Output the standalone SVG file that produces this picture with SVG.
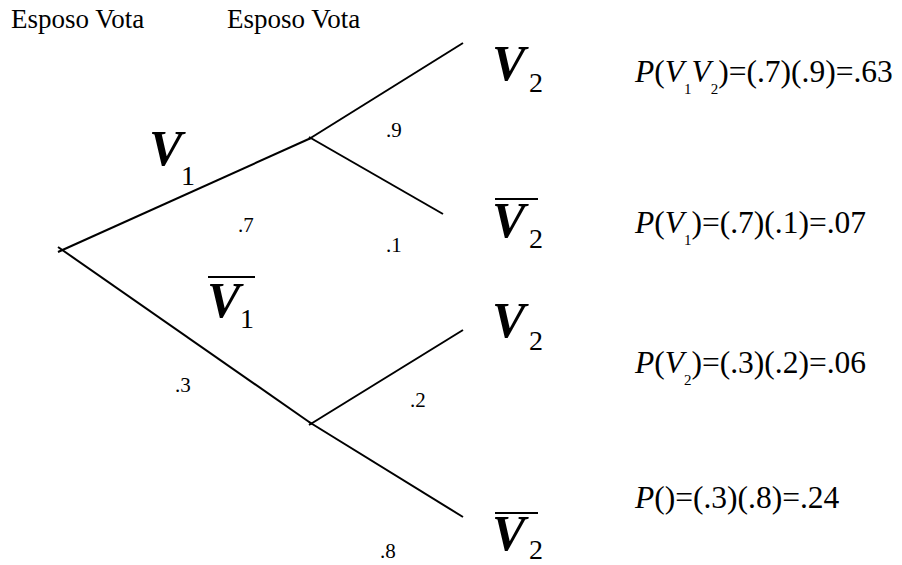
<svg xmlns="http://www.w3.org/2000/svg" width="902" height="565" viewBox="0 0 902 565">
<style>
.t{font-family:"Liberation Serif","Times New Roman",serif;fill:#000}
.h{font-size:27px}
.p{font-size:21px}
.f{font-size:31.5px}
.fs{font-size:15px}
.v{font-size:50px;font-weight:bold;font-style:italic}
.vs{font-size:28px}
.bar{stroke:#000;stroke-width:2}
.e{stroke:#000;stroke-width:2;fill:none}
</style>
<rect width="902" height="565" fill="#fff"/>
<g id="connectors">
<line class="e" x1="58" y1="252" x2="311" y2="138"/>
<line class="e" x1="58" y1="247" x2="312" y2="424"/>
<line class="e" x1="309" y1="139" x2="463" y2="43"/>
<line class="e" x1="309" y1="137" x2="443" y2="214"/>
<line class="e" x1="309" y1="425" x2="463" y2="330"/>
<line class="e" x1="309" y1="422" x2="463" y2="517"/>
</g>
<g id="headers">
<text class="t h" x="11" y="28">Esposo Vota</text>
<text class="t h" x="227" y="28">Esposo Vota</text>
</g>
<g id="probs">
<text class="t p" x="386" y="137">.9</text>
<text class="t p" x="238" y="232">.7</text>
<text class="t p" x="386" y="252">.1</text>
<text class="t p" x="175" y="392">.3</text>
<text class="t p" x="410" y="407">.2</text>
<text class="t p" x="380" y="558">.8</text>
</g>
<g id="node-v1">
<text class="t v" x="149" y="165">V</text>
<text class="t vs" x="181" y="185">1</text>
</g>
<g id="node-v1bar">
<line class="bar" x1="208" y1="277" x2="255" y2="277"/>
<text class="t v" x="207" y="317">V</text>
<text class="t vs" x="240" y="328">1</text>
</g>
<g id="node-v2-a">
<text class="t v" x="492" y="80">V</text>
<text class="t vs" x="529" y="92">2</text>
</g>
<g id="node-v2bar-b">
<line class="bar" x1="495" y1="199" x2="538" y2="199"/>
<text class="t v" x="492" y="237">V</text>
<text class="t vs" x="529" y="248">2</text>
</g>
<g id="node-v2-c">
<text class="t v" x="492" y="337">V</text>
<text class="t vs" x="529" y="350">2</text>
</g>
<g id="node-v2bar-d">
<line class="bar" x1="495" y1="513" x2="538" y2="513"/>
<text class="t v" x="492" y="550">V</text>
<text class="t vs" x="529" y="559">2</text>
</g>
<g id="formulas">
<text class="t f" x="635" y="82"><tspan font-style="italic">P</tspan>(<tspan font-style="italic">V</tspan><tspan class="fs" dy="12">1</tspan><tspan font-style="italic" dy="-12">V</tspan><tspan class="fs" dy="12">2</tspan><tspan dy="-12">)=(.7)(.9)=.63</tspan></text>
<text class="t f" x="635" y="233"><tspan font-style="italic">P</tspan>(<tspan font-style="italic">V</tspan><tspan class="fs" dy="12">1</tspan><tspan dy="-12">)=(.7)(.1)=.07</tspan></text>
<text class="t f" x="635" y="373"><tspan font-style="italic">P</tspan>(<tspan font-style="italic">V</tspan><tspan class="fs" dy="12">2</tspan><tspan dy="-12">)=(.3)(.2)=.06</tspan></text>
<text class="t f" x="635" y="508"><tspan font-style="italic">P</tspan>()=(.3)(.8)=.24</text>
</g>
</svg>
